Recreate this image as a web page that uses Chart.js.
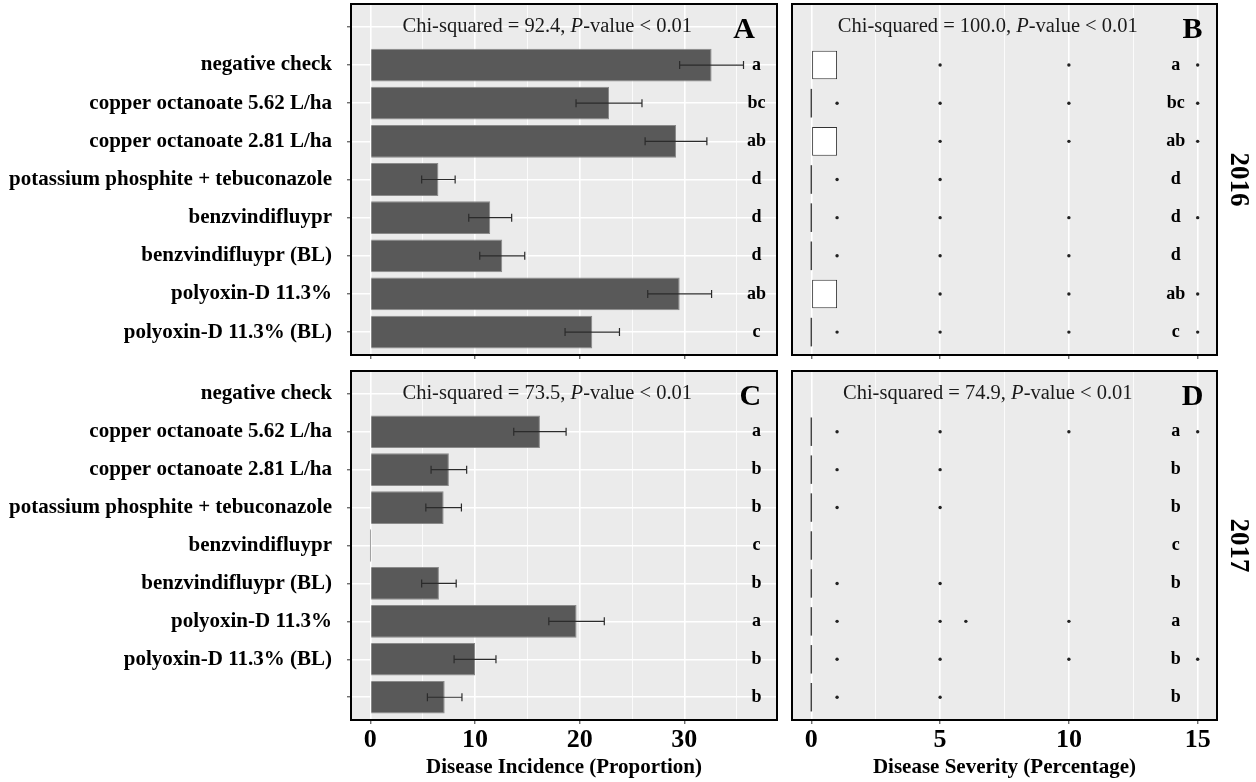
<!DOCTYPE html>
<html>
<head>
<meta charset="utf-8">
<script src="https://cdn.jsdelivr.net/npm/chart.js@4.4.1/dist/chart.umd.min.js"></script>
<style>
  html, body { margin: 0; padding: 0; background: #fff; }
  body { width: 1256px; height: 782px; position: relative; overflow: hidden; }
  canvas { position: absolute; }
</style>
</head>
<body>
<canvas id="chartA" width="785" height="362" style="left:0px;top:0px"></canvas>
<canvas id="chartB" width="476" height="362" style="left:780px;top:0px"></canvas>
<canvas id="chartC" width="785" height="417" style="left:0px;top:365px"></canvas>
<canvas id="chartD" width="476" height="417" style="left:780px;top:365px"></canvas>
<script>
// treatments (same order in both years)
const treatments = [
  'negative check',
  'copper octanoate 5.62 L/ha',
  'copper octanoate 2.81 L/ha',
  'potassium phosphite + tebuconazole',
  'benzvindifluypr',
  'benzvindifluypr (BL)',
  'polyoxin-D 11.3%',
  'polyoxin-D 11.3% (BL)'
];

// disease incidence (bars + error bars)
const incidence2016 = [32.6, 22.8, 29.2, 6.5, 11.45, 12.6, 29.55, 21.2];
const incidenceErr2016 = [3.05, 3.15, 2.95, 1.6, 2.05, 2.15, 3.05, 2.6];
const incidence2017 = [16.2, 7.5, 7.0, 0, 6.55, 19.7, 10.0, 7.1];
const incidenceErr2017 = [2.5, 1.7, 1.7, 0, 1.65, 2.65, 2.0, 1.65];

// disease severity (box plots: quartiles, outliers)
const sevQ1_2016 = [0, 0, 0, 0, 0, 0, 0, 0];
const sevQ3_2016 = [1, 0, 1, 0, 0, 0, 1, 0];
const sevOut2016 = [[5, 10, 15], [1, 5, 10, 15], [5, 10, 15], [1, 5], [1, 5, 10, 15], [1, 5, 10], [5, 10, 15], [1, 5, 10, 15]];
const sevQ1_2017 = [0, 0, 0, 0, 0, 0, 0, 0];
const sevQ3_2017 = [0, 0, 0, 0, 0, 0, 0, 0];
const sevOut2017 = [[1, 5, 10, 15], [1, 5], [1, 5], [], [1, 5], [1, 5, 6, 10], [1, 5, 10, 15], [1, 5]];

// significance letters
const lettersIncid2016 = ['a', 'bc', 'ab', 'd', 'd', 'd', 'ab', 'c'];
const lettersSev2016 = ['a', 'bc', 'ab', 'd', 'd', 'd', 'ab', 'c'];
const lettersIncid2017 = ['a', 'b', 'b', 'c', 'b', 'a', 'b', 'b'];
const lettersSev2017 = ['a', 'b', 'b', 'c', 'b', 'a', 'b', 'b'];

// chi-squared statistics
const chiIncid2016 = '92.4';
const chiSev2016 = '100.0';
const chiIncid2017 = '73.5';
const chiSev2017 = '74.9';

// axis ticks
const slots = [0, 1, 2, 3, 4, 5, 6, 7, 8];
const incidenceTicks = [0, 5, 10, 15, 20, 25, 30, 35];
const severityTicks = [0, 2.5, 5, 7.5, 10, 12.5, 15];

const FONT = "'Liberation Serif', 'Times New Roman', serif";
const PANEL_BG = '#ebebeb';

// y axis: discrete slots, slot 0 is the row used by the statistic text
function yScale(labels, showLabels, width) {
  return {
    type: 'linear',
    position: 'left',
    min: -0.6,
    max: 8.6,
    reverse: true,
    offset: false,
    afterBuildTicks: s => { s.ticks = slots.map(v => ({ value: v })); },
    afterFit: s => { s.width = width; s.paddingTop = 0; s.paddingBottom = 0; },
    border: { display: false },
    grid: { offset: false, color: '#ffffff', lineWidth: 1.6, tickColor: '#333', tickLength: 4, tickWidth: 1 },
    ticks: {
      display: showLabels,
      padding: 15,
      color: '#000',
      font: { family: FONT, size: 21, weight: 'bold' },
      callback: v => labels[v]
    }
  };
}

function xScale(min, max, ticksArr, major, showLabels, height, title) {
  const isMajor = v => Math.abs(v / major - Math.round(v / major)) < 1e-6;
  return {
    type: 'linear',
    position: 'bottom',
    min: min,
    max: max,
    afterBuildTicks: s => { s.ticks = ticksArr.map(v => ({ value: v })); },
    afterFit: s => { s.height = height; s.paddingLeft = 0; s.paddingRight = 0; },
    border: { display: false },
    grid: {
      color: '#ffffff',
      lineWidth: c => (c.tick && isMajor(c.tick.value)) ? 1.6 : 0.8,
      tickColor: c => (c.tick && isMajor(c.tick.value)) ? '#333' : 'rgba(0,0,0,0)',
      tickLength: 4,
      tickWidth: 1
    },
    ticks: {
      display: showLabels,
      autoSkip: false,
      maxRotation: 0,
      padding: 1,
      color: '#000',
      font: { family: FONT, size: 26, weight: 'bold' },
      callback: v => isMajor(v) ? String(v) : ''
    },
    title: {
      display: !!title,
      text: title || '',
      color: '#000',
      font: { family: FONT, size: 21, weight: 'bold', lineHeight: 1 },
      padding: { top: 0, bottom: 4 }
    }
  };
}

function drawChi(ctx, cx, cy, chi) {
  const size = 20.5;
  const parts = [
    ['Chi-squared = ' + chi + ', ', 'normal'],
    ['P', 'italic'],
    ['-value < 0.01', 'normal']
  ];
  let total = 0;
  const widths = parts.map(p => {
    ctx.font = p[1] + ' ' + size + 'px ' + FONT;
    const w = ctx.measureText(p[0]).width;
    total += w;
    return w;
  });
  let x = cx - total / 2;
  ctx.textAlign = 'left';
  ctx.textBaseline = 'middle';
  ctx.fillStyle = '#1a1a1a';
  parts.forEach((p, i) => {
    ctx.font = p[1] + ' ' + size + 'px ' + FONT;
    ctx.fillText(p[0], x, cy);
    x += widths[i];
  });
}

// background, frame, statistic, panel letter, significance letters, error bars, year strip
function panelPlugin(cfg) {
  return {
    id: 'panel' + cfg.letter,
    beforeDraw(chart) {
      const { ctx, chartArea: a } = chart;
      ctx.save();
      ctx.fillStyle = PANEL_BG;
      ctx.fillRect(a.left, a.top, a.right - a.left, a.bottom - a.top);
      ctx.restore();
    },
    afterDatasetsDraw(chart) {
      if (!cfg.values) return;
      const { ctx, scales: { x, y } } = chart;
      ctx.save();
      ctx.strokeStyle = '#2b2b2b';
      ctx.lineWidth = 1.2;
      cfg.values.forEach((v, i) => {
        const e = cfg.errors[i];
        if (!e) return;
        const yy = y.getPixelForValue(i + 1);
        const x0 = x.getPixelForValue(v - e);
        const x1 = x.getPixelForValue(v + e);
        ctx.beginPath();
        ctx.moveTo(x0, yy); ctx.lineTo(x1, yy);
        ctx.moveTo(x0, yy - 4); ctx.lineTo(x0, yy + 4);
        ctx.moveTo(x1, yy - 4); ctx.lineTo(x1, yy + 4);
        ctx.stroke();
      });
      ctx.restore();
    },
    afterDraw(chart) {
      const { ctx, chartArea: a, scales: { x, y } } = chart;
      ctx.save();
      // significance letters
      ctx.fillStyle = '#000';
      ctx.textAlign = 'center';
      ctx.textBaseline = 'middle';
      ctx.font = 'bold 18px ' + FONT;
      cfg.letters.forEach((l, i) => {
        ctx.fillText(l, x.getPixelForValue(cfg.letterX), y.getPixelForValue(i + 1));
      });
      // statistic
      drawChi(ctx, x.getPixelForValue(cfg.chiX), y.getPixelForValue(0), cfg.chi);
      // panel letter
      ctx.fillStyle = '#000';
      ctx.textAlign = 'center';
      ctx.textBaseline = 'middle';
      ctx.font = 'bold 30px ' + FONT;
      ctx.fillText(cfg.letter, x.getPixelForValue(cfg.panelX), y.getPixelForValue(0.08));
      // frame
      ctx.strokeStyle = '#000';
      ctx.lineWidth = 2;
      ctx.strokeRect(a.left, a.top, a.right - a.left, a.bottom - a.top);
      // year strip
      if (cfg.year) {
        ctx.translate(a.right + 21, (a.top + a.bottom) / 2);
        ctx.rotate(Math.PI / 2);
        ctx.font = 'bold 27px ' + FONT;
        ctx.fillText(cfg.year, 0, 0);
      }
      ctx.restore();
    }
  };
}

function incidenceChart(id, values, errors, labels, cfg, padding, xHeight, xTitle) {
  return new Chart(document.getElementById(id), {
    type: 'bar',
    data: {
      datasets: [{
        data: values.map((v, i) => ({ x: v, y: i + 1 })),
        backgroundColor: '#595959',
        borderColor: '#8a8a8a',
        borderWidth: 1,
        barPercentage: 0.86,
        categoryPercentage: 1,
        minBarLength: 1
      }]
    },
    options: {
      indexAxis: 'y',
      responsive: false,
      animation: false,
      events: [],
      layout: { padding: padding },
      plugins: { legend: { display: false }, tooltip: { enabled: false } },
      scales: {
        x: xScale(-1.85, 38.85, incidenceTicks, 10, !!xTitle, xHeight, xTitle),
        y: yScale(labels, true, 351)
      }
    },
    plugins: [panelPlugin(Object.assign({ values: values, errors: errors }, cfg))]
  });
}

function severityChart(id, q1, q3, outliers, cfg, padding, xHeight, xTitle) {
  // a box whose quartiles coincide collapses to a thin line (minBarLength)
  const boxes = q1.map((v, i) => ({ x: [v, q3[i]], y: i + 1 }));
  const collapsed = c => q3[c.dataIndex] === q1[c.dataIndex];
  const dots = [];
  outliers.forEach((row, i) => row.forEach(v => dots.push({ x: v, y: i + 1 })));
  return new Chart(document.getElementById(id), {
    type: 'bar',
    data: {
      datasets: [
        {
          type: 'bar',
          data: boxes,
          backgroundColor: c => collapsed(c) ? '#444' : '#ffffff',
          borderColor: '#333',
          borderWidth: c => collapsed(c) ? 0 : 1,
          borderSkipped: false,
          minBarLength: 1.5,
          barPercentage: 0.75,
          categoryPercentage: 1
        },
        {
          type: 'scatter',
          data: dots,
          pointRadius: 1.7,
          pointBackgroundColor: '#222',
          pointBorderWidth: 0
        }
      ]
    },
    options: {
      indexAxis: 'y',
      responsive: false,
      animation: false,
      events: [],
      layout: { padding: padding },
      plugins: { legend: { display: false }, tooltip: { enabled: false } },
      scales: {
        x: xScale(-0.75, 15.75, severityTicks, 5, !!xTitle, xHeight, xTitle),
        y: yScale([], false, 12)
      }
    },
    plugins: [panelPlugin(cfg)]
  });
}

incidenceChart('chartA', incidence2016, incidenceErr2016, [''].concat(treatments),
  { letter: 'A', chi: chiIncid2016, letters: lettersIncid2016, letterX: 36.9, chiX: 16.9, panelX: 35.7 },
  { top: 4, right: 8, left: 0, bottom: 0 }, 7, null);

severityChart('chartB', sevQ1_2016, sevQ3_2016, sevOut2016,
  { letter: 'B', chi: chiSev2016, letters: lettersSev2016, letterX: 14.15, chiX: 6.85, panelX: 14.8, year: '2016' },
  { top: 4, right: 39, left: 0, bottom: 0 }, 7, null);

incidenceChart('chartC', incidence2017, incidenceErr2017, treatments.concat(['']),
  { letter: 'C', chi: chiIncid2017, letters: lettersIncid2017, letterX: 36.9, chiX: 16.9, panelX: 36.3 },
  { top: 6, right: 8, left: 0, bottom: 0 }, 62, 'Disease Incidence (Proportion)');

severityChart('chartD', sevQ1_2017, sevQ3_2017, sevOut2017,
  { letter: 'D', chi: chiSev2017, letters: lettersSev2017, letterX: 14.15, chiX: 6.85, panelX: 14.8, year: '2017' },
  { top: 6, right: 39, left: 0, bottom: 0 }, 62, 'Disease Severity (Percentage)');
</script>
</body>
</html>
